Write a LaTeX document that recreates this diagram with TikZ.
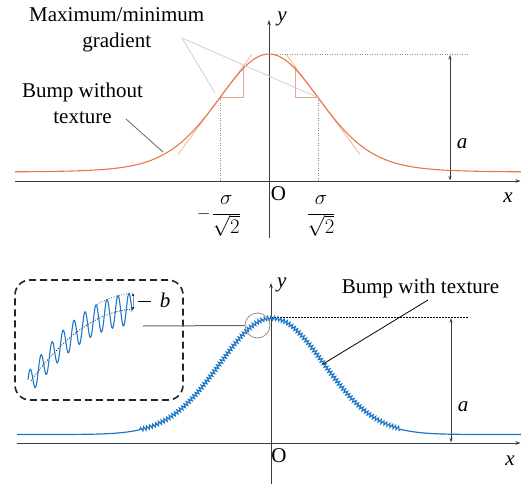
\documentclass[tikz,border=0pt]{standalone}
\usepackage{fontspec}
\setmainfont{Liberation Serif}
\usetikzlibrary{arrows.meta,decorations.pathmorphing}
\definecolor{bumpor}{RGB}{233,117,74}
\definecolor{tangor}{RGB}{242,190,160}
\definecolor{stepor}{RGB}{218,172,150}
\definecolor{leadgray}{RGB}{208,208,208}
\definecolor{axgray}{RGB}{60,60,60}
\definecolor{bumpblue}{RGB}{31,119,198}
\begin{document}
\begin{tikzpicture}[x=1pt,y=-1pt,
  font=\fontsize{21}{26}\selectfont,
  declare function={
    htop(\x)=0.5*exp(0-(\x/70)*(\x/70))+0.5/(cosh(\x/72)*cosh(\x/72));
    ytop(\x)=172-118*htop(\x-269);
    ybot(\x)=434.5-116.5*exp(0-((\x-271)/73.5)*((\x-271)/73.5));
    cin(\x)=382-(1.363*(\x-30)-0.00637*(\x-30)*(\x-30));
    ain(\x)=12.5+0.035*(\x-30);
  },
  axis/.style={draw=axgray,line width=0.9pt,-{Stealth[length=5pt,width=3.5pt]}},
  dimarrow/.style={draw=axgray,line width=0.7pt,{Stealth[length=4.5pt,width=3pt]}-{Stealth[length=4.5pt,width=3pt]}},
  curvetop/.style={draw=bumpor,line width=1.1pt},
  curvebot/.style={draw=bumpblue,line width=1.2pt},
  tangent/.style={draw=tangor,line width=0.9pt},
  stepline/.style={draw=stepor,line width=1pt},
  guide/.style={draw=black!45,line width=0.7pt,dash pattern=on 1pt off 1.5pt},
  peakguide/.style={draw=black,line width=0.7pt,dash pattern=on 1.5pt off 1.5pt},
  leadlight/.style={draw=leadgray,line width=0.8pt},
  leaddark/.style={draw=black!60,line width=0.8pt},
  lbl/.style={inner sep=0pt,anchor=base},
  txtblock/.style={inner sep=0pt,anchor=north,align=center},
  inset/.style={draw=black!85,line width=1.6pt,dash pattern=on 7pt off 4pt,rounded corners=15pt,inner sep=0pt}
]
\useasboundingbox (0,0) rectangle (521,484);

% ================= TOP PLOT =================
\coordinate (tx0) at (15,181);
\coordinate (tx1) at (520.5,181);
\coordinate (ty0) at (269,238);
\coordinate (ty1) at (269,20);
\draw[axis] (tx0) -- (tx1);
\draw[axis] (ty0) -- (ty1);

% inflection points and construction
\coordinate (iL) at (220,97.6);
\coordinate (iR) at (318,97.6);
\coordinate (iLax) at (220,181);
\coordinate (iRax) at (318,181);
\draw[guide] (iL) -- (iLax);
\draw[guide] (iR) -- (iRax);

\coordinate (tLa) at (178,154.4);
\coordinate (tLb) at (252,54.3);
\coordinate (tRa) at (286,54.3);
\coordinate (tRb) at (360,154.4);
\draw[tangent] (tLa) -- (tLb);
\draw[tangent] (tRa) -- (tRb);

\coordinate (sL1) at (243,97.6);
\coordinate (sL2) at (243,66.5);
\coordinate (sR1) at (295,97.6);
\coordinate (sR2) at (295,66.5);
\draw[stepline] (iL) -- (sL1) -- (sL2);
\draw[stepline] (iR) -- (sR1) -- (sR2);

% peak guide and amplitude
\coordinate (pk0) at (272,54);
\coordinate (pk1) at (468,54);
\draw[guide] (pk0) -- (pk1);
\coordinate (at0) at (450,55);
\coordinate (at1) at (450,180.5);
\draw[dimarrow] (at0) -- (at1);
\node[lbl] (alab1) at (462,148) {\textit{a}};

% bump without texture
\draw[curvetop] plot[domain=15:521,samples=220] (\x,{ytop(\x)});

% labels
\node[lbl] (ylab1) at (282,22) {\textit{y}};
\node[lbl] (xlab1) at (508,202) {\textit{x}};
\node[lbl] (olab1) at (278.5,200) {O};
\node[lbl] (sigL) at (219,219) {\raisebox{1pt}{\fontsize{19}{19}\selectfont$-$}\kern1pt$\displaystyle\frac{\sigma}{\sqrt{2}}$};
\node[lbl] (sigR) at (321,219) {$\displaystyle\frac{\sigma}{\sqrt{2}}$};

\node[txtblock] (maxmin) at (116.7,7.5) {Maximum/minimum\\gradient};
\coordinate (gfoot) at (182,38);
\coordinate (gL) at (215,93);
\draw[leadlight] (gfoot) -- (gL);
\draw[leadlight] (gfoot) -- (iR);

\node[txtblock] (bwot) at (82.5,82.4) {Bump without\\texture};
\coordinate (bwfoot) at (126,119);
\coordinate (bwend) at (163,152);
\draw[leaddark] (bwfoot) -- (bwend);

% ================= BOTTOM PLOT =================
\coordinate (bx0) at (17,443);
\coordinate (bx1) at (520.5,443);
\coordinate (by0) at (271,484);
\coordinate (by1) at (271,283);
\draw[axis] (bx0) -- (bx1);
\draw[axis] (by0) -- (by1);

\coordinate (bp0) at (271,317);
\coordinate (bp1) at (468,317);
\draw[peakguide] (bp0) -- (bp1);
\coordinate (ab0) at (451,318);
\coordinate (ab1) at (451,442.5);
\draw[dimarrow] (ab0) -- (ab1);
\node[lbl] (alab2) at (463,411) {\textit{a}};

% bump with texture
\draw[curvebot] plot[domain=17:140.5,samples=80] (\x,{ybot(\x)});
\draw[curvebot,decorate,decoration={snake,segment length=3.2pt,amplitude=1.9pt}]
  plot[domain=140:402,samples=180] (\x,{ybot(\x)});
\draw[curvebot] plot[domain=401.5:521,samples=80] (\x,{ybot(\x)});

\node[lbl] (ylab2) at (281.7,287) {\textit{y}};
\node[lbl] (xlab2) at (510,465) {\textit{x}};
\node[lbl] (olab2) at (279,462) {O};

\node[lbl] (bwt) at (420.5,293) {Bump with texture};
\coordinate (bwtfoot) at (428,300);
\coordinate (bwtend) at (323,364);
\draw[draw=black,line width=0.8pt] (bwtfoot) -- (bwtend);

% magnifier circle and inset
\node[circle,draw=black!45,line width=0.8pt,minimum size=25pt,inner sep=0pt] (zc) at (257.5,325.5) {};
\node[inset,minimum width=168pt,minimum height=120pt] (zoombox) at (99,340) {};
\coordinate (zl) at (143,326);
\draw[leaddark,line width=1pt] (zl) -- (zc.west);

% inset content
\draw[draw=black,line width=0.7pt,dash pattern=on 1pt off 1.6pt]
  plot[domain=31:133,samples=60] (\x,{cin(\x)});
\draw[draw=black!70,line width=0.7pt,dash pattern=on 1pt off 1.6pt]
  plot[domain=97:133,samples=30] (\x,{cin(\x)-ain(\x)});
\draw[draw=bumpblue,line width=1.1pt]
  plot[domain=28:132,samples=400] (\x,{cin(\x)-ain(\x)*cos(32.7273*(\x-30))});
\coordinate (bt) at (133,293.5);
\coordinate (bb) at (133,309.5);
\draw[draw=black!40,line width=1pt,{Stealth[length=2.5pt,width=2.5pt,color=black]}-{Stealth[length=2.5pt,width=2.5pt,color=black]}] (bt) -- (bb);
\coordinate (bl0) at (138,301);
\coordinate (bl1) at (151,301);
\draw[draw=black,line width=0.8pt] (bl0) -- (bl1);
\node[lbl] (blab) at (165,307) {\textit{b}};
\end{tikzpicture}
\end{document}
